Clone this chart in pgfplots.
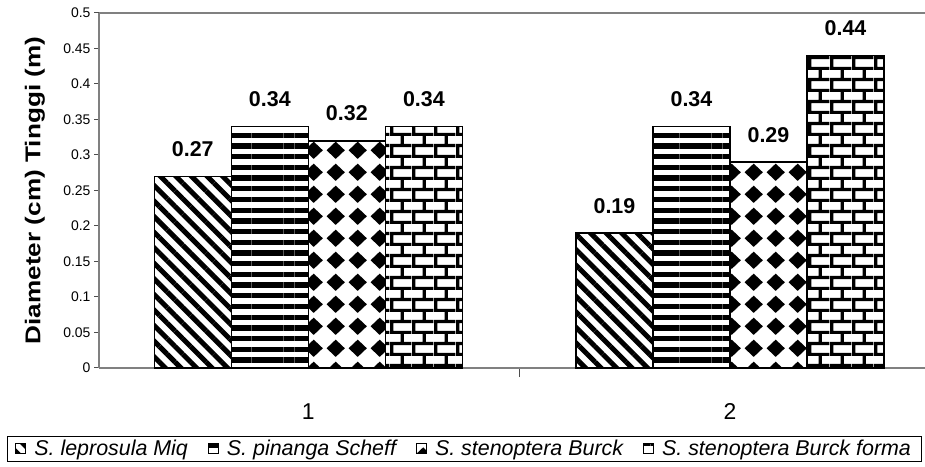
\documentclass[border=0pt]{standalone}
\usepackage{fontspec}
\setmainfont{Liberation Sans}
\usepackage{pgfplots}
\pgfplotsset{compat=1.18}
\usetikzlibrary{patterns,patterns.meta}

\definecolor{axisgray}{RGB}{128,128,128}

% diamonds on a square grid
\pgfdeclarepatternformonly{diamonds}{\pgfpointorigin}{\pgfpoint{21.7bp}{21.7bp}}{\pgfpoint{21.7bp}{21.7bp}}{%
  \pgfpathmoveto{\pgfpoint{1.6bp}{10.85bp}}%
  \pgfpathlineto{\pgfpoint{10.85bp}{19.6bp}}%
  \pgfpathlineto{\pgfpoint{20.1bp}{10.85bp}}%
  \pgfpathlineto{\pgfpoint{10.85bp}{2.1bp}}%
  \pgfpathclose
  \pgfusepath{fill}%
}

% bricks, rows offset by half a brick
\pgfdeclarepatternformonly{bricksx}{\pgfpointorigin}{\pgfpoint{21.7bp}{22.4bp}}{\pgfpoint{21.7bp}{22.4bp}}{%
  \pgfsetlinewidth{3.3bp}%
  \pgfpathmoveto{\pgfpoint{0bp}{1.65bp}}\pgfpathlineto{\pgfpoint{21.7bp}{1.65bp}}%
  \pgfpathmoveto{\pgfpoint{0bp}{12.85bp}}\pgfpathlineto{\pgfpoint{21.7bp}{12.85bp}}%
  \pgfpathmoveto{\pgfpoint{1.65bp}{1.65bp}}\pgfpathlineto{\pgfpoint{1.65bp}{12.85bp}}%
  \pgfpathmoveto{\pgfpoint{12.5bp}{12.85bp}}\pgfpathlineto{\pgfpoint{12.5bp}{22.4bp}}%
  \pgfpathmoveto{\pgfpoint{12.5bp}{0bp}}\pgfpathlineto{\pgfpoint{12.5bp}{1.65bp}}%
  \pgfusepath{stroke}%
}

\begin{document}
\begin{tikzpicture}
\path[use as bounding box] (0,0) rectangle (925bp,467bp);
\begin{axis}[
    at={(99bp,99bp)}, anchor=south west,
    scale only axis,
    width=826bp, height=355bp,
    xmin=-0.4965, xmax=1.4626,
    ymin=0, ymax=0.5,
    ytick distance=0.05,
    scaled y ticks=false,
    /pgf/number format/fixed,
    /pgf/number format/precision=2,
    /pgf/number format/assume math mode=true,
    xtick={0,1}, xticklabels={1,2},
    minor xtick={0.5},
    major x tick style={draw=none},
    axis lines=left,
    axis line style={-, axisgray, line width=1.5bp},
    tick align=outside,
    tick style={axisgray!60!black, line width=1bp},
    major tick length=5bp,
    minor tick length=9bp,
    yticklabel style={font=\fontsize{14}{16}\selectfont},
    xticklabel style={font=\fontsize{23}{26}\selectfont, yshift=-27bp},
    ylabel={\scalebox{1.22}[1]{Diameter (cm) Tinggi (m)}},
    every axis y label/.style={at={(axis description cs:-0.0775,0.5)}, rotate=90, anchor=center,
        font=\bfseries\fontsize{21.5}{24}\selectfont},
    clip=false,
    ybar, bar width=0.1827,
    every axis plot/.append style={draw=black, line width=1.5bp,
        legend image code/.code={\draw[#1, line width=1bp] (0bp,-5bp) rectangle (10bp,5bp);}},
    nodes near coords={\pgfmathprintnumber{\pgfplotspointmeta}},
    every node near coord/.append style={font=\bfseries\fontsize{21.5}{24}\selectfont,
        anchor=base, yshift=20bp, inner sep=0pt, text=black},
    legend columns=4,
    legend style={at={(axis description cs:-0.1114,-0.1915)}, anchor=north west,
        draw=black, line width=0.8bp, inner xsep=8bp, inner ysep=2bp,
        font=\itshape\fontsize{21.5}{24}\selectfont,
        /tikz/every odd column/.append style={column sep=6bp},
        /tikz/every even column/.append style={column sep=18bp}},
]
\addplot[bar shift=-0.274, pattern={Lines[angle=-45,distance=11bp,line width=5bp]}]
    coordinates {(0,0.27) (1,0.19)};
\addplot[bar shift=-0.0913, pattern={Lines[angle=0,distance=10.7bp,line width=5.3bp]}]
    coordinates {(0,0.34) (1,0.34)};
\addplot[bar shift=0.0913, pattern=diamonds]
    coordinates {(0,0.32) (1,0.29)};
\addplot[bar shift=0.274, pattern=bricksx]
    coordinates {(0,0.34) (1,0.44)};
\legend{S. leprosula Miq, S. pinanga Scheff, S. stenoptera Burck, S. stenoptera Burck forma}
\draw[axisgray, line width=1.5bp] (rel axis cs:0,1) -- (rel axis cs:1,1);
\end{axis}
\end{tikzpicture}
\end{document}
